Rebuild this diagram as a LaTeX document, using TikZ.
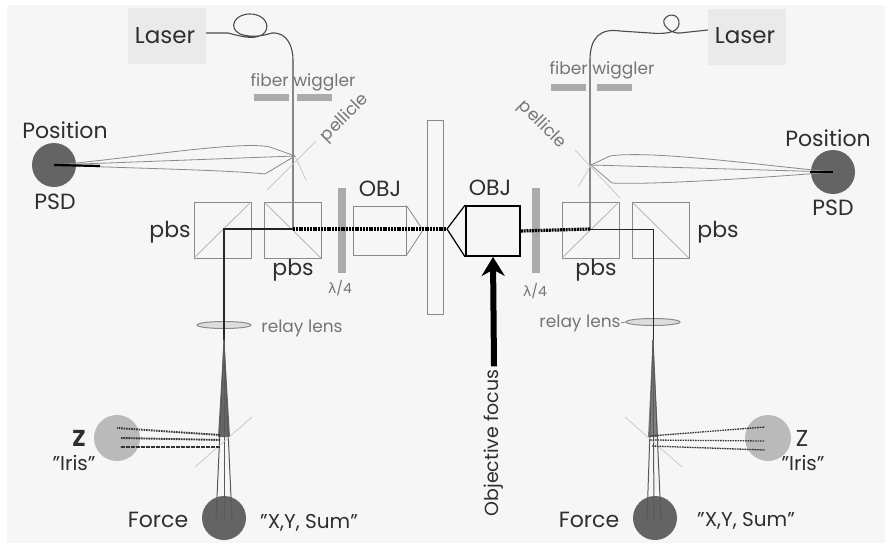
\documentclass[tikz,border=0pt]{standalone}
\usepackage{fontspec}
\setmainfont{Poppins}
\newfontfamily\greekfont{DejaVu Sans}
\definecolor{panel}{HTML}{F6F6F6}
\definecolor{boxgray}{HTML}{EAEAEA}
\definecolor{ink}{HTML}{2E2E2E}
\definecolor{faint}{HTML}{8A8A8A}
\definecolor{psd}{HTML}{646464}
\definecolor{iris}{HTML}{BABABA}
\definecolor{plate}{HTML}{ABABAB}
\tikzset{
  big/.style={font=\fontsize{23}{23}\selectfont,text=ink,inner sep=0pt},
  mid/.style={font=\fontsize{22}{22}\selectfont,text=ink,inner sep=0pt},
  quoted/.style={font=\fontsize{20}{20}\selectfont,text=ink,inner sep=0pt},
  small/.style={font=\fontsize{17}{17}\selectfont,text=faint!85!black,inner sep=0pt},
  lasbox/.style={fill=boxgray,draw=none,minimum width=78pt,minimum height=56pt,inner sep=0pt},
  detector/.style={circle,fill=psd,draw=none,minimum size=44pt,inner sep=0pt},
  irisdisc/.style={circle,fill=iris,draw=none,minimum size=46pt,inner sep=0pt},
  cube/.style={draw=faint,line width=.7pt,fill=none,minimum width=57pt,minimum height=56pt,inner sep=0pt},
  diagline/.style={draw=faint!70,line width=.7pt},
  wplate/.style={fill=plate,draw=none,inner sep=0pt},
  barplate/.style={fill=plate,draw=none,minimum width=35pt,minimum height=7pt,inner sep=0pt},
  thinbeam/.style={draw=black!85,line width=1.3pt},
  fatbeam/.style={draw=black,line width=3.2pt,dash pattern=on 2pt off .8pt},
  fibre/.style={draw=black!70,line width=1.1pt},
  ray/.style={draw=faint,line width=.8pt},
  mirror/.style={draw=faint!50,line width=.7pt},
  irisray/.style={draw=black!80,line width=1.9pt,dash pattern=on 1.6pt off .9pt},
  lens/.style={ellipse,draw=faint,line width=1pt,fill=plate!40,minimum width=54pt,minimum height=7pt,inner sep=0pt},
  cone/.style={draw=black!65,line width=1pt},
}
\usetikzlibrary{shapes.geometric,arrows.meta}
\begin{document}
\begin{tikzpicture}[x=1pt,y=-1pt]
\useasboundingbox (0,0) rectangle (885,543);
\fill[white] (0,0) rectangle (885,543);
\fill[panel] (7,5) rectangle (885,543);

% ---------- slide
\node[draw=faint,line width=.8pt,minimum width=16pt,minimum height=194pt,inner sep=0pt] (slide) at (435,217) {};

% ---------- left side
\node[lasbox] (laserL) at (167,36) {};
\node[big] at (165,36) {Laser};
\coordinate (pelL) at (295,156);
\coordinate (splitL) at (293,229);
\coordinate (foldL) at (224,229);
\draw[fibre] (laserL.east |- 0,33) -- (228,33) .. controls (240,36) and (252,40) .. (262,35)
  .. controls (272,28) and (266,14) .. (250,14) .. controls (234,14) and (228,28) .. (240,34)
  .. controls (252,38) and (262,36) .. (272,33) .. controls (288,32) and (293,48) .. (293,60) -- (splitL);
\node[small] (wigL) at (303,82) {fiber wiggler};
\node[barplate] (barL1) at (271,97) {};
\node[barplate] (barL2) at (314,97) {};
\node[small,rotate=45] (pelTextL) at (345,118) {pellicle};
\draw[mirror] (267,190) -- (316,141);
\draw[mirror] (pelL) -- (306,180);

\node[mid] at (65,130) {Position};
\node[detector] (psdL) at (54,165) {};
\node[mid] at (55,202) {PSD};
\draw[ray] (psdL.center) .. controls (120,160) and (240,140) .. (270,147) -- (pelL);
\draw[ray] (psdL.center) -- (pelL);
\draw[ray] (psdL.center) .. controls (120,168) and (230,170) .. (265,174) -- (pelL);
\draw[black,line width=2.2pt] (psdL.center) -- (100,166);

\node[cube] (pbsA) at (222.5,230) {};
\node[cube] (pbsB) at (292.5,230) {};
\draw[diagline] (pbsA.south west) -- (pbsA.north east);
\draw[diagline] (pbsB.north west) -- (pbsB.south east);
\node[mid] at (170,232) {pbs};
\node[mid] at (293,270) {pbs};
\node[wplate,minimum width=8pt,minimum height=85pt] (qwL) at (342,230) {};
\node[small,font=\fontsize{14}{14}\selectfont] at (340,288) {{\greekfont λ}/4};

\node[mid] at (380,189) {OBJ};
\node[draw=faint,line width=.8pt,minimum width=53pt,minimum height=49pt,inner sep=0pt] (objL) at (379.5,230.5) {};
\coordinate (tipL) at (423,230);
\draw[draw=faint,line width=.8pt] (objL.north east) -- (tipL) -- (objL.south east);

\node[lens] (lensL) at (224,325) {};
\node[small] at (302,328) {relay lens};
\draw[thinbeam] (splitL) -- (foldL) -- (224,340);
\coordinate (mirL) at (224,437);
\fill[black!60] (224,335) -- (218,437) -- (230,437) -- cycle;
\node[irisdisc] (zL) at (117,438) {};
\node[detector] (forceL) at (224,518) {};
\draw[cone] (224,340) -- (216,520);
\draw[cone] (224,340) -- (224,520);
\draw[cone] (224,340) -- (232,520);
\draw[mirror] (195,467) -- (252,417);
\draw[irisray] (220,435) -- (117,428);
\draw[irisray] (220,440) -- (121,438);
\draw[irisray] (220,447) -- (120,447);
\node[mid,font=\fontsize{23}{23}\selectfont\bfseries] at (79,438) {Z};
\node[quoted] at (74,463) {"Iris"};
\node[mid] at (158,520) {Force};
\node[quoted] at (309,523) {"X,Y, Sum"};

% ---------- right side
\node[lasbox] (laserR) at (747,37) {};
\node[big] at (745,36) {Laser};
\coordinate (pelR) at (591,165);
\coordinate (splitR) at (590,229);
\coordinate (foldR) at (653,229);
\draw[fibre] (laserR.west |- 0,30) -- (680,33) .. controls (672,34) and (662,26) .. (664,20)
  .. controls (668,12) and (680,14) .. (679,24) .. controls (678,34) and (662,34) .. (650,33)
  -- (620,31) .. controls (600,28) and (590,38) .. (590,60) -- (splitR);
\node[small] (wigR) at (602,70) {fiber wiggler};
\node[barplate] (barR1) at (568,87) {};
\node[barplate] (barR2) at (614,87) {};
\node[small,rotate=-45] (pelTextR) at (542,125) {pellicle};
\draw[mirror] (575,150) -- (620,198);
\draw[mirror] (pelR) -- (578,187);

\node[mid] at (828,138) {Position};
\node[detector] (psdR) at (833,172) {};
\node[mid] at (833,208) {PSD};
\draw[ray] (psdR.center) .. controls (760,165) and (650,150) .. (610,156) -- (pelR);
\draw[ray] (psdR.center) -- (pelR);
\draw[ray] (psdR.center) .. controls (760,178) and (650,185) .. (612,183) -- (pelR);
\draw[black,line width=2.2pt] (psdR.center) -- (810,172);

\node[cube] (pbsC) at (590.5,230) {};
\node[cube] (pbsD) at (660.5,230) {};
\draw[diagline] (pbsC.south west) -- (pbsC.north east);
\draw[diagline] (pbsD.north west) -- (pbsD.south east);
\node[mid] at (718,232) {pbs};
\node[mid] at (596,270) {pbs};
\node[wplate,minimum width=8pt,minimum height=85pt] (qwR) at (536,230) {};
\node[small,font=\fontsize{14}{14}\selectfont] at (535,291) {{\greekfont λ}/4};

\node[mid] at (490,188) {OBJ};
\node[draw=black,line width=1.8pt,minimum width=54pt,minimum height=50pt,inner sep=0pt] (objR) at (493,231) {};
\coordinate (tipR) at (447,229);
\draw[black,line width=1.2pt] (objR.north west) -- (tipR) -- (objR.south west);

\node[lens] (lensR) at (653,322) {};
\node[small] (relayR) at (580,323) {relay lens};
\draw[faint,line width=.8pt] (relayR.east) -- (lensR.west);
\draw[thinbeam,line width=1pt] (splitR) -- (foldR) -- (653,340);
\fill[black!50] (653,335) -- (648,437) -- (658,437) -- cycle;
\node[irisdisc] (zR) at (768,438) {};
\node[detector] (forceR) at (655,518) {};
\draw[cone] (653,340) -- (647,520);
\draw[cone] (653,340) -- (654,520);
\draw[cone] (653,340) -- (661,520);
\draw[mirror] (625,417) -- (682,467);
\draw[irisray,line width=1.3pt] (650,436) -- (765,427);
\draw[irisray,line width=1.3pt] (650,440) -- (765,441);
\draw[irisray,line width=1.3pt] (652,446) -- (765,450);
\node[mid,font=\fontsize{23}{23}\selectfont] at (802,438) {Z};
\node[quoted] at (803,463) {"Iris"};
\node[mid] at (589,520) {Force};
\node[quoted] at (746,521) {"X,Y, Sum"};

% ---------- central beam
\draw[fatbeam] (splitL) -- (tipR);
\draw[fatbeam] (objR.east) -- (splitR);

% ---------- focus arrow
\node[font=\fontsize{19}{19}\selectfont,text=ink,inner sep=0pt,rotate=90] (focus) at (494,443) {Objective focus};
\draw[black,line width=6pt,-{Stealth[length=19pt,width=23pt]}] (focus.east) ++(0,-3) -- (objR.south);
\end{tikzpicture}
\end{document}
